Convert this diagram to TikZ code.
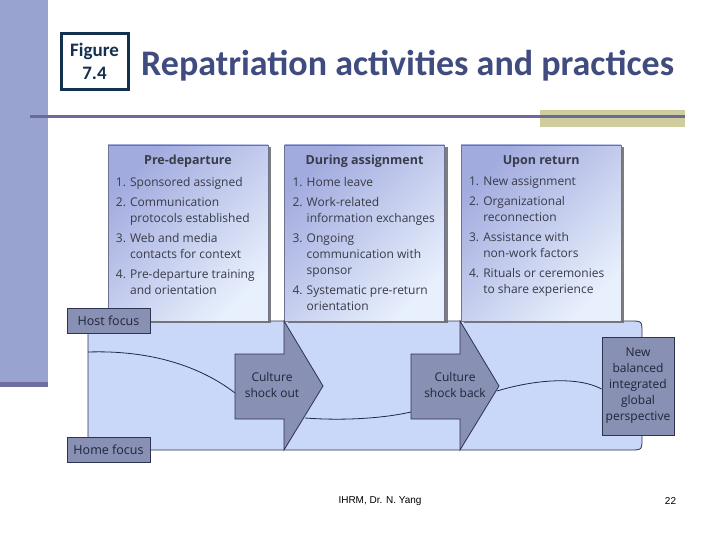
\documentclass[tikz,border=0pt]{standalone}
\usepackage{fontspec}
\setmainfont{Open Sans}
\newfontfamily\calfont{Carlito}
\newfontfamily\arialfont{Liberation Sans}
\usetikzlibrary{positioning,shadows}
\definecolor{barC}{HTML}{98A4CF}
\definecolor{barEdge}{HTML}{6F6FA0}
\definecolor{ruleC}{HTML}{6B6B9A}
\definecolor{oliveC}{HTML}{CFCC9E}
\definecolor{ttlC}{HTML}{404C80}
\definecolor{navC}{HTML}{14304F}
\definecolor{pnlD}{HTML}{A2ABDE}
\definecolor{pnlL}{HTML}{E8F0FD}
\definecolor{pnlEdge}{HTML}{6E7390}
\definecolor{bandC}{HTML}{C9D7F8}
\definecolor{edgeC}{HTML}{2E3450}
\definecolor{tagC}{HTML}{8890B3}
\definecolor{tagTxt}{HTML}{20253A}
\definecolor{txtC}{HTML}{383B48}
\definecolor{crvC}{HTML}{1E2848}
\newcommand{\itind}{\hphantom{0. }}
\begin{document}
\begin{tikzpicture}[x=1bp, y=-1bp,
  every node/.style={font=\fontsize{12bp}{16bp}\selectfont, inner sep=0pt},
  pnl/.style={draw=pnlEdge, line width=0.6bp, minimum width=160bp, minimum height=176bp,
    top color=pnlD, bottom color=pnlL, shading angle=45,
    drop shadow={shadow xshift=3bp, shadow yshift=-2bp, fill=black!60, opacity=0.85}},
  hd/.style={font=\fontsize{12.5bp}{16bp}\selectfont\bfseries, text=txtC},
  lst/.style={align=left, text=txtC, anchor=north west},
  tag/.style={draw=edgeC, line width=0.8bp, fill=tagC, minimum width=83bp, minimum height=25bp,
    font=\fontsize{12.5bp}{16bp}\selectfont, text=tagTxt},
  shk/.style={draw=edgeC, line width=0.8bp, fill=tagC},
  lbl/.style={align=center, text=tagTxt, font=\fontsize{12bp}{16bp}\selectfont},
  crv/.style={draw=crvC, line width=0.8bp}]
\useasboundingbox (0,0) rectangle (720,540);
\fill[barC] (0,0) rectangle (48,387);
\fill[barEdge] (0,382) rectangle (48,387);
\fill[oliveC] (540,110) rectangle (685,127);
\fill[ruleC] (30,115.5) rectangle (685,118.5);
\node[draw=navC, line width=3bp, minimum width=67bp, minimum height=56bp, align=center,
  font=\calfont\bfseries\fontsize{19bp}{23bp}\selectfont, text=navC] (fig) at (94.5,61.5) {Figure\\7.4};
\node[anchor=base west, font=\calfont\bfseries\fontsize{36bp}{40bp}\selectfont, text=ttlC] (ttl) at (141,76)
  {Repatriation activities and practices};

\draw[fill=bandC, draw=edgeC, line width=0.8bp] (88,321) -- (630,321) .. controls (642,321) .. (642,333)
  -- (642,438) .. controls (642,450) .. (630,450) -- (88,450) -- cycle;

\node[pnl] (pre) at (188,233) {};
\node[pnl, right=16bp of pre] (dur) {};
\node[pnl, right=16bp of dur] (ret) {};
\node[hd] (preH) at ([yshift=-17bp]pre.north) {Pre-departure};
\node[hd] (durH) at ([yshift=-17bp]dur.north) {During assignment};
\node[hd] (retH) at ([yshift=-17bp]ret.north) {Upon return};
\node[lst] (preL) at ([xshift=8bp,yshift=-32bp]pre.north west) {1. Sponsored assigned\\[4bp]
  2. Communication\\\itind protocols established\\[4bp]
  3. Web and media\\\itind contacts for context\\[4bp]
  4. Pre-departure training\\\itind and orientation};
\node[lst] (durL) at ([xshift=8bp,yshift=-32bp]dur.north west) {1. Home leave\\[4bp]
  2. Work-related\\\itind information exchanges\\[4bp]
  3. Ongoing\\\itind communication with\\\itind sponsor\\[4bp]
  4. Systematic pre-return\\\itind orientation};
\node[lst] (retL) at ([xshift=8bp,yshift=-32bp]ret.north west) {1. New assignment\\[4bp]
  2. Organizational\\\itind reconnection\\[4bp]
  3. Assistance with\\\itind non-work factors\\[4bp]
  4. Rituals or ceremonies\\\itind to share experience};

\node[shk, minimum width=72bp, minimum height=98bp, lbl] (nbg) at (638,386)
  {New\\balanced\\integrated\\global\\perspective};
\coordinate (hst) at (88,352);
\coordinate (so-w) at (235,393);
\coordinate (so-e) at (305,418);
\coordinate (sb-w) at (411,412);
\coordinate (sb-e) at (497,391);
\draw[crv] (hst) .. controls (150,350) and (200,366) .. (so-w);
\draw[crv] (so-e) .. controls (345,421) and (385,418) .. (sb-w);
\draw[crv] (sb-e) .. controls (530,381) and (575,375) .. ([yshift=-3bp]nbg.west);
\draw[shk] (235,354) -- (284,354) -- (284,321) -- (323,386) -- (284,450) -- (284,419) -- (235,419) -- cycle;
\draw[shk] (411,354) -- (460,354) -- (460,321) -- (499,386) -- (460,450) -- (460,419) -- (411,419) -- cycle;
\node[lbl] (cso) at (272,385) {Culture\\shock out};
\node[lbl] (csb) at (455,385) {Culture\\shock back};
\node[tag] (host) at (108.5,320.5) {Host focus};
\node[tag] (home) at (108.5,449.5) {Home focus};

\node[font=\arialfont\fontsize{10bp}{12bp}\selectfont] (ftr) at (380,501) {IHRM, Dr. N. Yang};
\node[font=\arialfont\fontsize{10bp}{12bp}\selectfont] (pg) at (670.5,501) {22};
\end{tikzpicture}
\end{document}
